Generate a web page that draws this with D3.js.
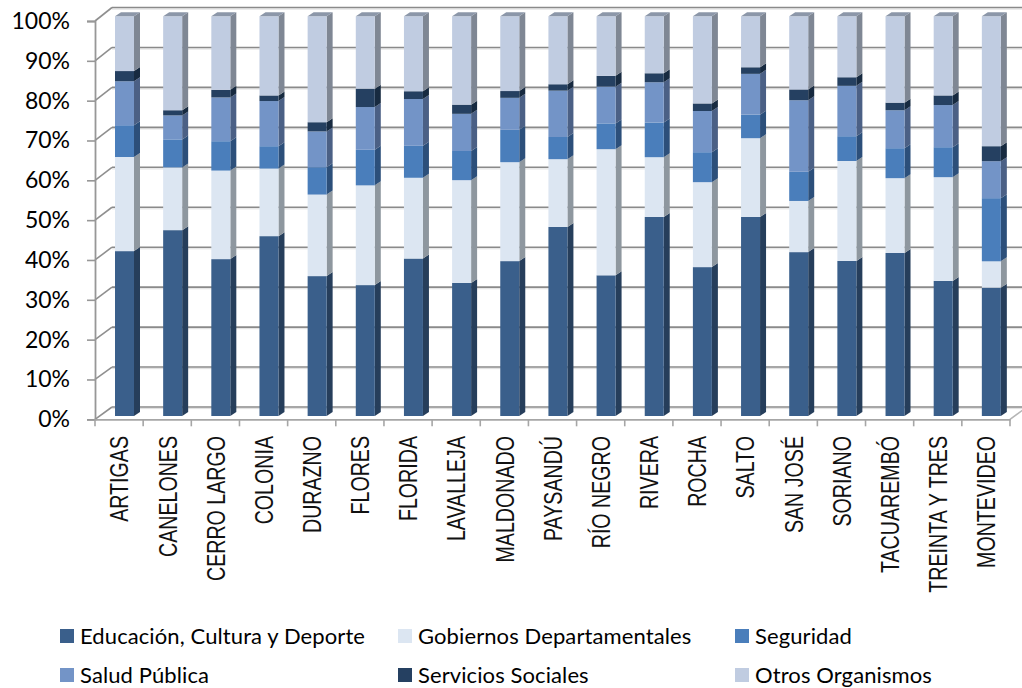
<!DOCTYPE html>
<html>
<head>
<meta charset="utf-8">
<script src="https://cdn.jsdelivr.net/npm/d3@7"></script>
<style>
html, body { margin: 0; padding: 0; background: #fff; overflow: hidden; }
svg { display: block; }
</style>
</head>
<body>
<script>
// Departments, left to right
const departments = ["ARTIGAS", "CANELONES", "CERRO LARGO", "COLONIA", "DURAZNO", "FLORES", "FLORIDA", "LAVALLEJA", "MALDONADO", "PAYSANDÚ", "RÍO NEGRO", "RIVERA", "ROCHA", "SALTO", "SAN JOSÉ", "SORIANO", "TACUAREMBÓ", "TREINTA Y TRES", "MONTEVIDEO"];

// Share of each series per department (%)
const educacion = [41.25, 46.5, 39.25, 45, 35, 32.75, 39.4, 33.3, 38.75, 47.3, 35.2, 49.8, 37.25, 49.8, 41, 38.8, 40.8, 33.8, 32.1];
const gobiernos = [23.55, 15.7, 22.15, 16.9, 20.4, 24.95, 20.2, 25.7, 24.75, 16.95, 31.55, 14.95, 21.25, 19.7, 12.8, 25, 18.7, 25.95, 6.6];
const seguridad = [7.95, 7, 7.35, 5.6, 6.85, 8.9, 8, 7.3, 8.1, 5.55, 6.45, 8.65, 7.5, 5.9, 7.3, 6.2, 7.5, 7.5, 15.8];
const salud = [11, 6, 10.95, 11.3, 8.95, 10.7, 11.7, 9.3, 8, 11.6, 9.2, 10.1, 10.3, 10.2, 17.9, 12.6, 9.5, 10.55, 9.25];
const servicios = [2.55, 1.3, 1.9, 1.4, 2.3, 4.6, 1.95, 2.3, 1.7, 1.6, 2.7, 2.25, 1.9, 1.65, 2.7, 2.15, 1.9, 2.4, 3.75];
const otros = [13.7, 23.5, 18.4, 19.8, 26.5, 18.1, 18.75, 22.1, 18.7, 17, 14.9, 14.25, 21.8, 12.75, 18.3, 15.25, 21.6, 19.8, 32.5];

const seriesNames = ["Educación, Cultura y Deporte", "Gobiernos Departamentales", "Seguridad", "Salud Pública", "Servicios Sociales", "Otros Organismos"];
const seriesValues = [educacion, gobiernos, seguridad, salud, servicios, otros];
const frontColors = ["#3a5f8b", "#dce6f2", "#4a7ebb", "#7394c7", "#254061", "#c0cce1"];
const sideColors = ["#263e5b", "#8e979f", "#2c4f7a", "#4b6085", "#172a40", "#7f8794"];
const yTicks = [0, 0.1, 0.2, 0.3, 0.4, 0.5, 0.6, 0.7, 0.8, 0.9, 1];

const width = 1022, height = 688;
const depthX = 17, depthY = 12.2;   // wall depth
const barDepthX = 6, barDepthY = 4; // bar depth
const barInset = 20, barWidth = 19;

const table = departments.map((d, i) => {
    const row = { department: d };
    seriesNames.forEach((s, j) => { row[s] = seriesValues[j][i]; });
    return row;
});
const stacked = d3.stack().keys(seriesNames).offset(d3.stackOffsetExpand)(table);

const x = d3.scaleBand().domain(departments).range([95, 1010]);
const yFront = d3.scaleLinear().domain([0, 1]).range([419.3, 21]);
const yBack = d3.scaleLinear().domain([0, 1]).range([407, 7.5]);
const yBar = d3.scaleLinear().domain([0, 1]).range([416, 16.3]);

const svg = d3.select("body").append("svg")
    .attr("width", width)
    .attr("height", height)
    .style("font-family", "Lato, sans-serif");

// Back wall grid, with the soft shadow under each line
const grid = svg.append("g").attr("fill", "none");
yTicks.forEach(t => {
    grid.append("line")
        .attr("x1", x.range()[0] + depthX).attr("x2", width)
        .attr("y1", yBack(t) + 1.6).attr("y2", yBack(t) + 1.6)
        .attr("stroke", "#dedede").attr("stroke-width", 1);
    grid.append("line")
        .attr("x1", x.range()[0] + depthX).attr("x2", width)
        .attr("y1", yBack(t)).attr("y2", yBack(t))
        .attr("stroke", "#8a8a8a").attr("stroke-width", 1.6);
    grid.append("line")
        .attr("x1", x.range()[0]).attr("x2", x.range()[0] + depthX)
        .attr("y1", yFront(t)).attr("y2", yBack(t))
        .attr("stroke", "#8f8f8f").attr("stroke-width", 1.6);
});

// Floor edge on the right
grid.append("line")
    .attr("x1", x.range()[1]).attr("x2", x.range()[1] + depthX)
    .attr("y1", yFront(0)).attr("y2", yBack(0))
    .attr("stroke", "#b5b5b5").attr("stroke-width", 1.6);

// Vertical axis with its percent labels
const yAxis = svg.append("g")
    .attr("transform", `translate(${x.range()[0]},0)`)
    .call(d3.axisLeft(yFront).tickValues(yTicks).tickFormat(d3.format(".0%")).tickSize(8).tickPadding(17));
yAxis.select(".domain").attr("stroke", "#979797").attr("stroke-width", 1.8);
yAxis.selectAll(".tick line").attr("stroke", "#979797").attr("stroke-width", 1.6);
yAxis.selectAll(".tick text")
    .attr("fill", "#000")
    .style("font-family", "Lato, sans-serif")
    .style("font-size", "23px");

// Horizontal axis: baseline and a tick at every band edge
const xAxis = svg.append("g")
    .attr("transform", `translate(0,${yFront(0)})`)
    .call(d3.axisBottom(x).tickSize(0).tickFormat(""));
xAxis.select(".domain").attr("stroke", "#a6a6a6").attr("stroke-width", 1.8);
xAxis.selectAll(".edge")
    .data(departments.concat([null]))
    .enter().append("line")
    .attr("x1", d => d === null ? x.range()[1] : x(d))
    .attr("x2", d => d === null ? x.range()[1] : x(d))
    .attr("y1", 0).attr("y2", 7)
    .attr("stroke", "#a6a6a6").attr("stroke-width", 1.6);

// Category labels, narrow and rotated
svg.append("g").selectAll("text")
    .data(departments)
    .enter().append("text")
    .attr("transform", d => `translate(${x(d) + x.bandwidth() / 2 + 9.3},436) rotate(-90) scale(0.785,1)`)
    .attr("text-anchor", "end")
    .style("font-family", "'Liberation Sans', sans-serif")
    .style("font-size", "25px")
    .attr("fill", "#111")
    .text(d => d);

// Bars: side face, then front face, one layer at a time
const layers = svg.append("g").selectAll("g")
    .data(stacked)
    .enter().append("g");

layers.selectAll(".side")
    .data((s, i) => s.map(p => ({ p: p, i: i })))
    .enter().append("path")
    .attr("class", "side")
    .attr("fill", d => sideColors[d.i])
    .attr("d", d => {
        const right = x(d.p.data.department) + barInset + barWidth;
        const y0 = yBar(d.p[0]), y1 = yBar(d.p[1]);
        return `M${right},${y1}L${right + barDepthX},${y1 - barDepthY}L${right + barDepthX},${y0 - barDepthY}L${right},${y0}Z`;
    });

layers.selectAll(".front")
    .data((s, i) => s.map(p => ({ p: p, i: i })))
    .enter().append("rect")
    .attr("class", "front")
    .attr("x", d => x(d.p.data.department) + barInset)
    .attr("width", barWidth)
    .attr("y", d => yBar(d.p[1]))
    .attr("height", d => yBar(d.p[0]) - yBar(d.p[1]))
    .attr("fill", d => frontColors[d.i]);

// Lid of each bar
svg.append("g").selectAll("path")
    .data(departments)
    .enter().append("path")
    .attr("fill", "#8c97a9")
    .attr("d", d => {
        const left = x(d) + barInset, top = yBar(1);
        return `M${left},${top}L${left + barDepthX},${top - barDepthY}L${left + barWidth + barDepthX},${top - barDepthY}L${left + barWidth},${top}Z`;
    });

// Legend
const legendX = [60, 398, 735];
const legendY = [629, 668];
const legend = svg.append("g").selectAll("g")
    .data(seriesNames)
    .enter().append("g")
    .attr("transform", (d, i) => `translate(${legendX[i % 3]},${legendY[Math.floor(i / 3)]})`);
legend.append("rect")
    .attr("width", 14).attr("height", 14)
    .attr("fill", (d, i) => frontColors[i]);
legend.append("text")
    .attr("x", 20).attr("y", 14.5)
    .style("font-size", "22px")
    .style("letter-spacing", "0.1px")
    .attr("fill", "#000")
    .text(d => d);
</script>
</body>
</html>
